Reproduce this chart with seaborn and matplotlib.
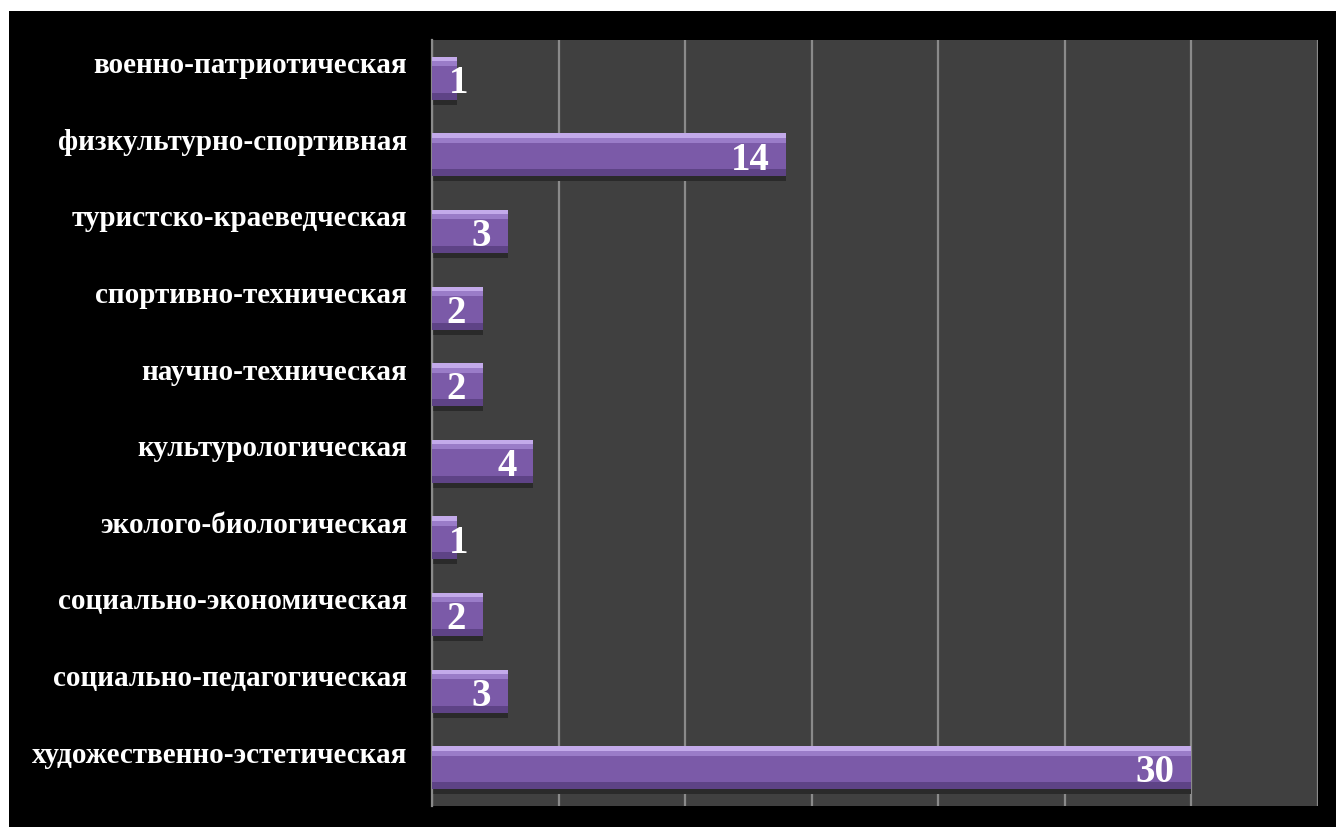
import matplotlib
matplotlib.use("Agg")
import matplotlib.pyplot as plt
import matplotlib.transforms as mtransforms
from matplotlib.patches import Rectangle
import pandas as pd
import seaborn as sns

categories = [
    "военно-патриотическая",
    "физкультурно-спортивная",
    "туристско-краеведческая",
    "спортивно-техническая",
    "научно-техническая",
    "культурологическая",
    "эколого-биологическая",
    "социально-экономическая",
    "социально-педагогическая",
    "художественно-эстетическая",
]
counts = [1, 14, 3, 2, 2, 4, 1, 2, 3, 30]

df = pd.DataFrame({"direction": categories, "count": counts})

sns.set_style("dark")
plt.rcParams["font.family"] = ["Liberation Serif", "DejaVu Serif"]

fig = plt.figure(figsize=(13.36, 8.28), dpi=100, facecolor="black")
# thin white strip at top and left, as in the reference
fig.patches.append(Rectangle((0, 1 - 12 / 828), 1, 12 / 828, transform=fig.transFigure,
                             facecolor="white", edgecolor="none", zorder=-5))
fig.patches.append(Rectangle((0, 0), 9 / 1336, 1, transform=fig.transFigure,
                             facecolor="white", edgecolor="none", zorder=-5))
ax = fig.add_axes([432 / 1336, 21 / 828, 886 / 1336, 766 / 828])
ax.set_facecolor("#404040")

sns.barplot(data=df, x="count", y="direction", orient="h", color="#7B5AA8",
            width=0.56, saturation=1, edgecolor="none", ax=ax, zorder=3)

# bevel: light strip at top, dark strip at bottom of every bar
for p in list(ax.patches):
    x0, y0, w, h = p.get_x(), p.get_y(), p.get_width(), p.get_height()
    ax.add_patch(Rectangle((x0, y0), w, h * 0.10, color="#C3AAEA", zorder=4, lw=0))
    ax.add_patch(Rectangle((x0, y0 + h * 0.10), w, h * 0.12, color="#9A7CC8", zorder=4, lw=0))
    ax.add_patch(Rectangle((x0, y0 + h * 0.84), w, h * 0.16, color="#5E4386", zorder=4, lw=0))
    ax.add_patch(Rectangle((x0, y0 + h), w, h * 0.12, color="#2a2a2a", zorder=2, lw=0))

ax.set_xlim(0, 35)
ax.set_xticks(range(0, 36, 5))
ax.set_xticklabels([])
ax.grid(axis="x", color="#8a8a8a", lw=1.6, zorder=1)
ax.grid(axis="y", visible=False)
ax.set_xlabel("")
ax.set_ylabel("")
ax.tick_params(axis="both", length=0)
ax.tick_params(axis="y", pad=18)
lift = mtransforms.ScaledTranslation(0, 12 / 72, fig.dpi_scale_trans)
for lab in ax.get_yticklabels():
    lab.set_color("white")
    lab.set_fontweight("bold")
    lab.set_fontsize(21)
    lab.set_transform(lab.get_transform() + lift)
for side in ["top", "right", "bottom"]:
    ax.spines[side].set_visible(False)
ax.spines["left"].set_color("#8a8a8a")
ax.spines["left"].set_linewidth(1.6)

for i, v in enumerate(counts):
    dx = 8 if v < 2 else -12
    ax.annotate(str(v), (v, i), xytext=(dx, -3), textcoords="offset points",
                ha="right", va="center", color="white", fontsize=28,
                fontweight="bold", zorder=6)

fig.savefig("out.png", dpi=100, facecolor=fig.get_facecolor())
